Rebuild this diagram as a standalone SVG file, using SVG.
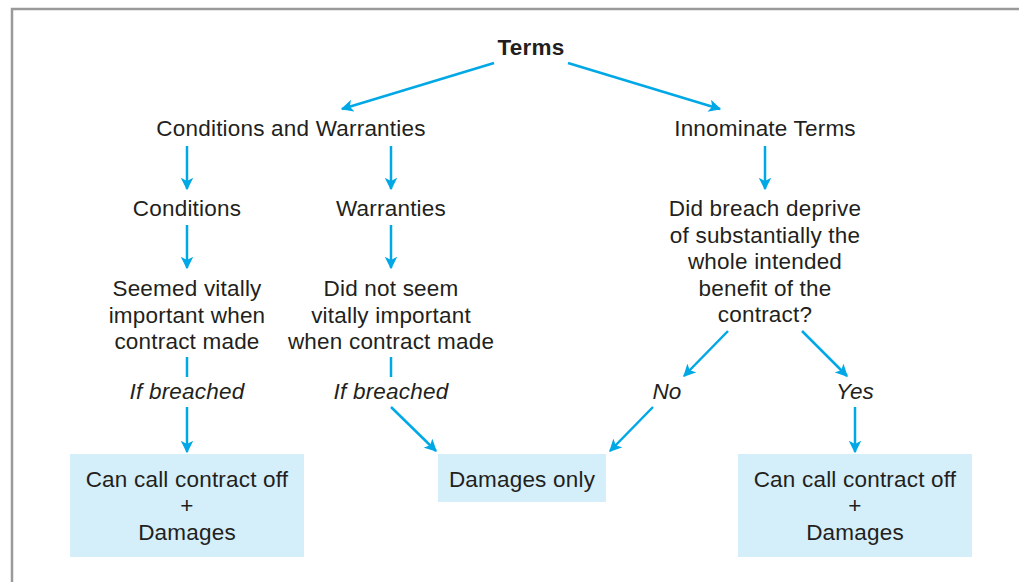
<svg xmlns="http://www.w3.org/2000/svg" width="1019" height="582" viewBox="0 0 1019 582">
<style>
text{font-family:"Liberation Sans",Arial,sans-serif;font-size:22.5px;letter-spacing:0.2px;fill:#231f20;text-anchor:middle}
.b{font-weight:bold}
.i{font-style:italic}
.c{stroke:#00a8e6;stroke-width:2.5;fill:none}
.box{fill:#d4eefa}
</style>
<defs>
<marker id="ah" viewBox="0 0 10 10" refX="9" refY="5" markerWidth="5" markerHeight="5" orient="auto" markerUnits="strokeWidth">
<path d="M0,0 L10,5 L0,10 L2.5,5 z" fill="#00a8e6"/>
</marker>
</defs>
<rect x="12" y="9" width="1020" height="600" fill="#fff" stroke="#9a9a9a" stroke-width="2.5"/>
<g id="connectors">
<line class="c" x1="494" y1="63" x2="342" y2="109" marker-end="url(#ah)"/>
<line class="c" x1="568" y1="63" x2="720" y2="109" marker-end="url(#ah)"/>
<line class="c" x1="187" y1="146" x2="187" y2="189" marker-end="url(#ah)"/>
<line class="c" x1="391" y1="146" x2="391" y2="189" marker-end="url(#ah)"/>
<line class="c" x1="765" y1="146" x2="765" y2="189" marker-end="url(#ah)"/>
<line class="c" x1="187" y1="225" x2="187" y2="268" marker-end="url(#ah)"/>
<line class="c" x1="391" y1="225" x2="391" y2="268" marker-end="url(#ah)"/>
<line class="c" x1="187" y1="357" x2="187" y2="377"/>
<line class="c" x1="391" y1="357" x2="391" y2="377"/>
<line class="c" x1="187" y1="407" x2="187" y2="452" marker-end="url(#ah)"/>
<line class="c" x1="391" y1="407" x2="436" y2="451" marker-end="url(#ah)"/>
<line class="c" x1="728" y1="331" x2="684" y2="376" marker-end="url(#ah)"/>
<line class="c" x1="802" y1="331" x2="847" y2="376" marker-end="url(#ah)"/>
<line class="c" x1="653" y1="407" x2="610" y2="451" marker-end="url(#ah)"/>
<line class="c" x1="855" y1="407" x2="855" y2="452" marker-end="url(#ah)"/>
</g>
<g id="terms"><text class="b" x="531" y="55">Terms</text></g>
<g id="cw"><text x="291" y="136">Conditions and Warranties</text></g>
<g id="innominate"><text x="765" y="136">Innominate Terms</text></g>
<g id="conditions"><text x="187" y="216">Conditions</text></g>
<g id="warranties"><text x="391" y="216">Warranties</text></g>
<g id="question"><text x="765" y="216">Did breach deprive</text><text x="765" y="243">of substantially the</text><text x="765" y="269">whole intended</text><text x="765" y="296">benefit of the</text><text x="765" y="322">contract?</text></g>
<g id="seemed"><text x="187" y="296">Seemed vitally</text><text x="187" y="323">important when</text><text x="187" y="349">contract made</text></g>
<g id="didnot"><text x="391" y="296">Did not seem</text><text x="391" y="323">vitally important</text><text x="391" y="349">when contract made</text></g>
<g id="ifb1"><text class="i" x="187" y="399">If breached</text></g>
<g id="ifb2"><text class="i" x="391" y="399">If breached</text></g>
<g id="no"><text class="i" x="667" y="399">No</text></g>
<g id="yes"><text class="i" x="855" y="399">Yes</text></g>
<g id="box1"><rect class="box" x="70" y="454" width="234" height="103"/><text x="187" y="487">Can call contract off</text><text x="187" y="513">+</text><text x="187" y="540">Damages</text></g>
<g id="box2"><rect class="box" x="438" y="454" width="168" height="48"/><text x="522" y="487">Damages only</text></g>
<g id="box3"><rect class="box" x="738" y="454" width="234" height="103"/><text x="855" y="487">Can call contract off</text><text x="855" y="513">+</text><text x="855" y="540">Damages</text></g>
</svg>
